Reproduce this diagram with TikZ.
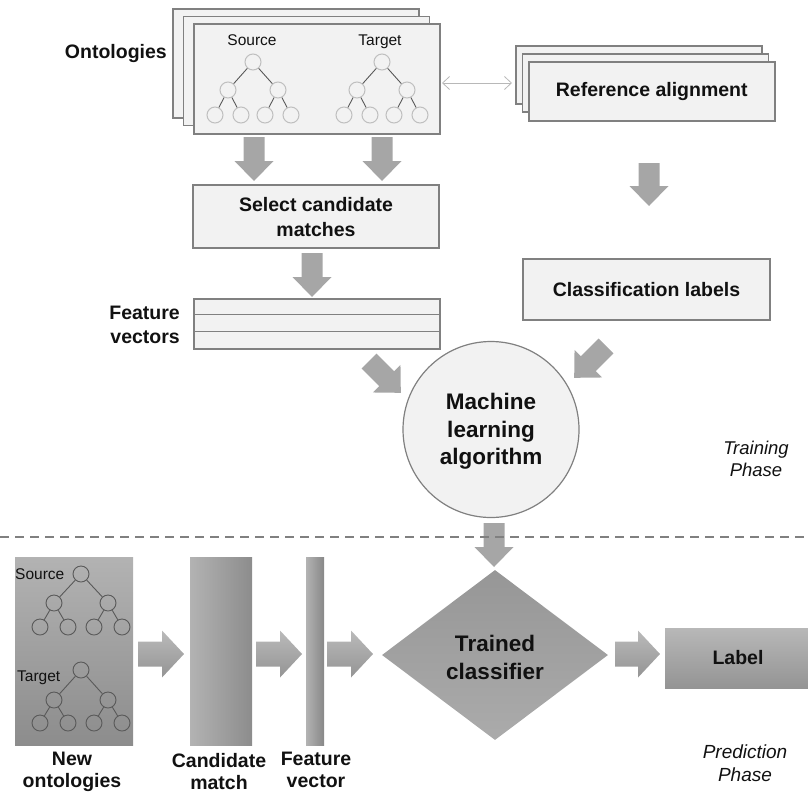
\documentclass[tikz,border=0pt]{standalone}
\usepackage{fontspec}
\setmainfont{Liberation Sans}
\usetikzlibrary{shapes.geometric,arrows.meta,calc}
\definecolor{boxfill}{HTML}{F2F2F2}
\definecolor{boxline}{HTML}{808080}
\definecolor{arrgray}{HTML}{A6A6A6}
\definecolor{treecirc}{HTML}{BFBFBF}
\definecolor{treeln}{HTML}{595959}
\definecolor{txt}{HTML}{111111}
\tikzset{
  lbl/.style={font=\fontsize{19.5}{24}\selectfont\bfseries, text=txt, align=center, inner sep=0pt},
  biglbl/.style={font=\fontsize{22.5}{27.5}\selectfont\bfseries, text=txt, align=center, inner sep=0pt},
  phase/.style={font=\fontsize{18.5}{22.5}\selectfont\itshape, text=txt, align=center, inner sep=0pt},
  small/.style={font=\fontsize{15.5}{18}\selectfont, text=txt, inner sep=0pt},
  plainbox/.style={draw=boxline, fill=boxfill, line width=1.5pt, rectangle, inner sep=0pt},
  tcircA/.style={circle, draw=treecirc, fill=boxfill, line width=1pt, minimum size=16pt, inner sep=0pt},
  tcircB/.style={circle, draw=treeln, line width=0.9pt, minimum size=16pt, inner sep=0pt},
  tlineA/.style={draw=treeln, line width=0.9pt},
  flatarr/.style={fill=arrgray},
  shadearr/.style={top color=black!27, bottom color=black!42, draw=none},
}
% #1 style, #2 start, #3 angle, #4 length, #5 half shaft, #6 half head, #7 head length
\newcommand{\blockarr}[7][flatarr]{%
  \begin{scope}[shift={#2},rotate=#3]
    \path[#1] (0,-#5) -- ({#4-#7},-#5) -- ({#4-#7},-#6) -- (#4,0) -- ({#4-#7},#6) -- ({#4-#7},#5) -- (0,#5) -- cycle;
  \end{scope}}
% #1 prefix, #2 x, #3 y, #4 dx1, #5 dy1, #6 dx2, #7 dy2, #8 circle style
\newcommand{\ontotree}[8]{%
  \node[#8] (#1r) at (#2,#3) {};
  \node[#8] (#1a) at ({#2-#4},{#3+#5}) {};
  \node[#8] (#1b) at ({#2+#4},{#3+#5}) {};
  \node[#8] (#1aa) at ({#2-#4-#6},{#3+#5+#7}) {};
  \node[#8] (#1ab) at ({#2-#4+#6},{#3+#5+#7}) {};
  \node[#8] (#1ba) at ({#2+#4-#6},{#3+#5+#7}) {};
  \node[#8] (#1bb) at ({#2+#4+#6},{#3+#5+#7}) {};
  \draw[tlineA] (#1r) -- (#1a) (#1r) -- (#1b) (#1a) -- (#1aa) (#1a) -- (#1ab) (#1b) -- (#1ba) (#1b) -- (#1bb);
}
\begin{document}
\begin{tikzpicture}[x=1pt,y=-1pt]
\useasboundingbox (0,0) rectangle (808,793);

% ---------------- Training phase ----------------
% Ontologies stack
\node[plainbox, minimum width=246pt, minimum height=109pt, anchor=north west] (ont1) at (172,8) {};
\node[plainbox, minimum width=246pt, minimum height=109pt, anchor=north west] (ont2) at (182.5,15.5) {};
\node[plainbox, minimum width=246pt, minimum height=110pt, anchor=north west] (ont3) at (193,23) {};
\node[lbl, anchor=east] (ontlbl) at (167,53) {Ontologies};
\node[small, anchor=base] (srcA) at (252,45.5) {Source};
\node[small, anchor=base] (tgtA) at (380,45.5) {Target};
\ontotree{sA}{253}{62}{25}{28}{13}{25}{tcircA}
\ontotree{tA}{382}{62}{25}{28}{13}{25}{tcircA}

% Reference alignment stack
\node[plainbox, minimum width=246pt, minimum height=58pt, anchor=north west] (ref1) at (515,45) {};
\node[plainbox, minimum width=246pt, minimum height=58pt, anchor=north west] (ref2) at (521.5,53) {};
\node[plainbox, minimum width=246pt, minimum height=59pt, anchor=north west] (ref3) at (528,61) {};
\node[lbl] (reftxt) at (ref3.center) {Reference alignment};

% double arrow
\coordinate (da) at (442,83);
\coordinate (db) at (512,83);
\draw[draw=black!28, line width=0.8pt, {Straight Barb[length=7pt,width=13pt]}-{Straight Barb[length=7pt,width=13pt]}] (da) -- (db);

% Select candidate matches
\node[plainbox, minimum width=246pt, minimum height=63pt] (sel) at (316,216.5) {};
\node[lbl, font=\fontsize{19.5}{25}\selectfont\bfseries] (seltxt) at (316,217.5) {Select candidate\\matches};

% Feature vectors
\node[plainbox, minimum width=246pt, minimum height=50pt, anchor=north west] (fv) at (193,298) {};
\coordinate (fvl1) at (193,314.7);
\coordinate (fvr1) at (439,314.7);
\coordinate (fvl2) at (193,331.4);
\coordinate (fvr2) at (439,331.4);
\draw[draw=boxline, line width=1.5pt] (fvl1) -- (fvr1) (fvl2) -- (fvr2);
\node[lbl, align=right, anchor=east] (fvlbl) at (180,325) {Feature\\vectors};

% Classification labels
\node[plainbox, minimum width=247pt, minimum height=61pt] (cls) at (646.5,289.5) {};
\node[lbl] (clstxt) at (cls.center) {Classification labels};

% Machine learning algorithm
\node[circle, draw=boxline, fill=boxfill, line width=1.2pt, minimum size=176pt, inner sep=0pt] (ml) at (491,429.5) {};
\node[biglbl, font=\fontsize{22.5}{27.5}\selectfont\bfseries] (mltxt) at (491,431.5) {Machine\\learning\\algorithm};

% Training arrows
\blockarr{(254,137)}{-90}{44}{10.5}{19.5}{20}
\blockarr{(382,137)}{-90}{44}{10.5}{19.5}{20}
\blockarr{(312,253)}{-90}{44}{10.5}{19.5}{20}
\blockarr{(649,163)}{-90}{43}{10.5}{19.5}{20}
\blockarr{(369,361)}{-45}{45}{10.5}{19.5}{20}
\blockarr{(606,346)}{-135}{45}{10.5}{19.5}{20}
\blockarr{(494,523)}{-90}{44}{10.5}{19.5}{20}

\node[phase] (train) at (756,459) {Training\\Phase};

% dashed separator
\coordinate (dl) at (0,537);
\coordinate (dr) at (808,537);
\draw[draw=black!50, line width=1.3pt, dash pattern=on 9pt off 6pt] (dl) -- (dr);

% ---------------- Prediction phase ----------------
\node[rectangle, inner sep=0pt, minimum width=118pt, minimum height=188pt, anchor=north west, top color=black!30, bottom color=black!45] (newont) at (15,557) {};
\node[small, anchor=base west] (srcB) at (15,579.5) {Source};
\node[small, anchor=base west] (tgtB) at (17,681.5) {Target};
\ontotree{sB}{81}{574}{27}{29}{14}{24}{tcircB}
\ontotree{tB}{81}{670}{27}{30}{14}{23}{tcircB}
\node[lbl, font=\fontsize{19.5}{22}\selectfont\bfseries] (newlbl) at (72,771.5) {New\\ontologies};

\node[rectangle, inner sep=0pt, minimum width=62pt, minimum height=188pt, anchor=north west, left color=black!30, right color=black!45] (cand) at (190,557) {};
\node[lbl, font=\fontsize{19.5}{22}\selectfont\bfseries] (candlbl) at (219,771.5) {Candidate\\match};

\node[rectangle, inner sep=0pt, minimum width=18pt, minimum height=188pt, anchor=north west, left color=black!30, right color=black!47] (fvec) at (306,557) {};
\node[lbl, font=\fontsize{19.5}{22}\selectfont\bfseries] (fveclbl) at (316,770) {Feature\\vector};

\node[diamond, inner sep=0pt, minimum width=226pt, minimum height=170pt, top color=black!41, bottom color=black!33] (clf) at (495,655) {};
\node[biglbl, font=\fontsize{22.5}{28}\selectfont\bfseries] (clftxt) at (495,657) {Trained\\classifier};

\node[rectangle, inner sep=0pt, minimum width=150pt, minimum height=60pt, anchor=north west, top color=black!28, bottom color=black!42] (lab) at (665,628) {};
\node[lbl] (labtxt) at (738,658) {Label};

\blockarr[shadearr]{(138,654)}{0}{46}{12.5}{23.5}{22}
\blockarr[shadearr]{(256,654)}{0}{46}{12.5}{23.5}{22}
\blockarr[shadearr]{(327,654)}{0}{46}{12.5}{23.5}{22}
\blockarr[shadearr]{(615,654)}{0}{45}{12.5}{23.5}{22}

\node[phase, font=\fontsize{19}{23}\selectfont\itshape] (pred) at (745,763.5) {Prediction\\Phase};
\end{tikzpicture}
\end{document}
